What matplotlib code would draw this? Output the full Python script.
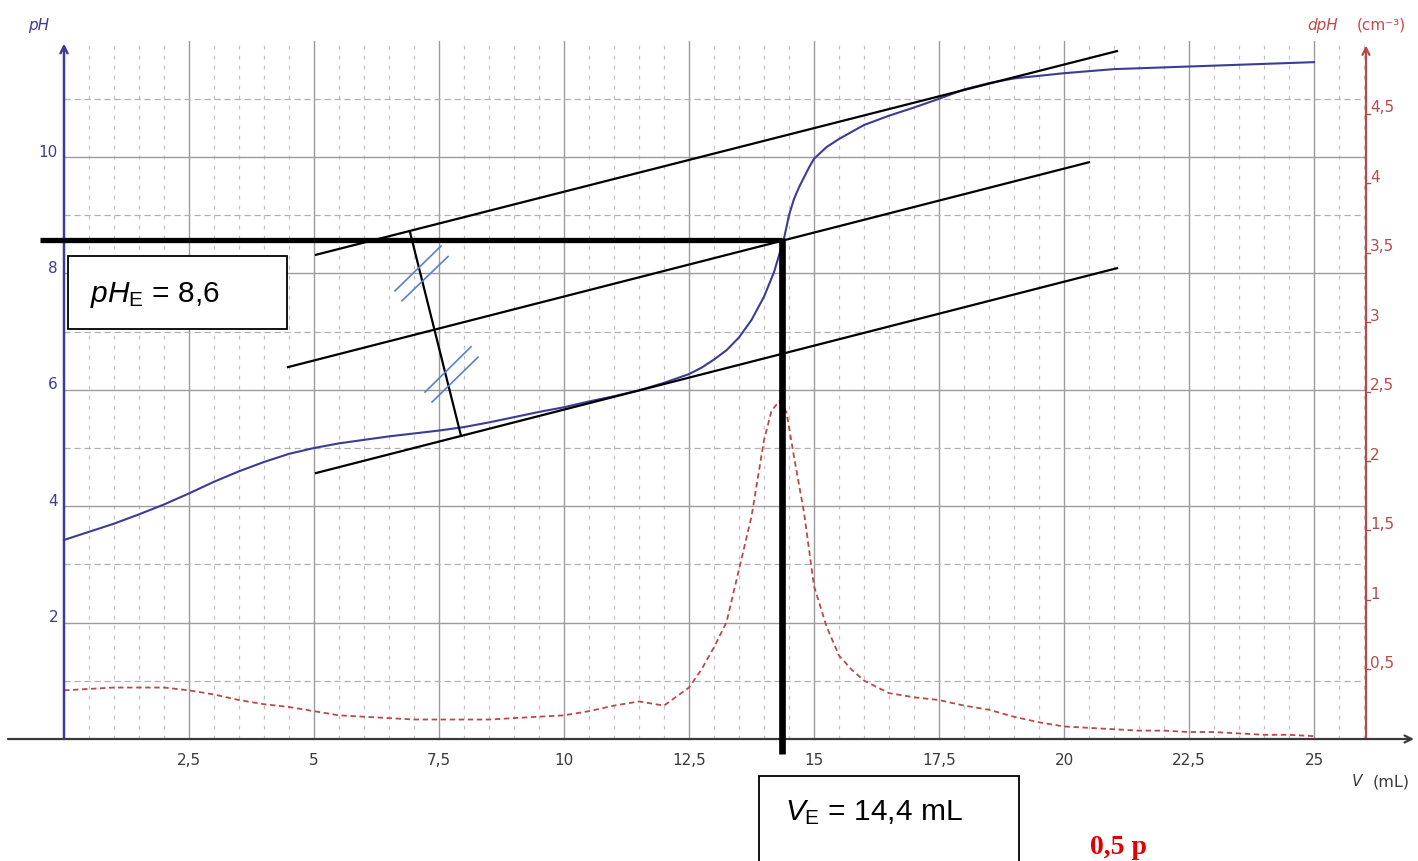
import matplotlib.pyplot as plt
import matplotlib.patches as patches

plt.rcParams['mathtext.fontset'] = 'custom'
plt.rcParams['mathtext.rm'] = 'Liberation Sans'
plt.rcParams['mathtext.it'] = 'Liberation Sans:italic'

# titration curve pH = f(V)
v_ph = [0, 0.5, 1, 1.5, 2, 2.5, 3, 3.5, 4, 4.5, 5, 5.5, 6, 6.5, 7, 7.5, 8, 8.5, 9, 9.5,
        10, 10.5, 11, 11.5, 12, 12.5, 12.75, 13, 13.25, 13.5, 13.75, 14, 14.2, 14.4, 14.5,
        14.6, 14.7, 14.8, 14.9, 15, 15.25, 15.5, 16, 16.5, 17, 17.5, 18, 18.5, 19, 20, 21,
        22, 23, 24, 25]
ph = [3.42, 3.56, 3.70, 3.86, 4.03, 4.22, 4.42, 4.60, 4.76, 4.90, 5.00, 5.08, 5.14, 5.20,
      5.25, 5.30, 5.36, 5.44, 5.53, 5.62, 5.70, 5.80, 5.89, 5.99, 6.12, 6.27, 6.38, 6.52,
      6.68, 6.90, 7.20, 7.60, 8.02, 8.60, 9.00, 9.28, 9.48, 9.65, 9.82, 9.97, 10.17, 10.31,
      10.55, 10.71, 10.85, 11.00, 11.16, 11.27, 11.35, 11.44, 11.51, 11.54, 11.57, 11.60,
      11.63]

# derivative dpH/dV
v_d = [0, 0.5, 1, 1.5, 2, 2.5, 3, 3.5, 4, 4.5, 5, 5.5, 6, 6.5, 7, 7.5, 8, 8.5, 9, 9.5,
       10, 10.5, 11, 11.5, 12, 12.5, 12.75, 13, 13.25, 13.5, 13.75, 14, 14.15, 14.3, 14.45,
       14.6, 14.8, 15, 15.25, 15.5, 15.75, 16, 16.5, 17, 17.5, 18, 18.5, 19, 19.5, 20,
       20.5, 21, 21.5, 22, 22.5, 23, 23.5, 24, 24.5, 25]
dph = [0.35, 0.36, 0.37, 0.37, 0.37, 0.35, 0.32, 0.28, 0.25, 0.23, 0.20, 0.17, 0.16, 0.15,
       0.14, 0.14, 0.14, 0.14, 0.15, 0.16, 0.17, 0.20, 0.24, 0.27, 0.24, 0.37, 0.50, 0.66,
       0.84, 1.22, 1.60, 2.15, 2.36, 2.43, 2.35, 2.03, 1.63, 1.10, 0.81, 0.60, 0.50, 0.42,
       0.33, 0.30, 0.28, 0.24, 0.21, 0.16, 0.12, 0.09, 0.08, 0.07, 0.06, 0.06, 0.05, 0.05,
       0.04, 0.03, 0.03, 0.02]

# parallel tangents and their perpendicular
tan_v = [[5.04, 21.06], [4.48, 20.5], [5.04, 21.06]]
tan_ph = [[8.32, 11.82], [6.39, 9.91], [4.57, 8.09]]
perp_v = [6.92, 7.94]
perp_ph = [8.71, 5.21]
# equal-length marks
mark_v = [[6.62, 7.54], [6.76, 7.68], [7.22, 8.14], [7.36, 8.28]]
mark_ph = [[7.70, 8.47], [7.53, 8.29], [5.96, 6.74], [5.79, 6.56]]

ve = 14.35
phe = 8.58

x_ticks = [2.5, 5, 7.5, 10, 12.5, 15, 17.5, 20, 22.5, 25]
x_labels = ['2,5', '5', '7,5', '10', '12,5', '15', '17,5', '20', '22,5', '25']
ph_ticks = [2, 4, 6, 8, 10]
d_ticks = [0.5, 1, 1.5, 2, 2.5, 3, 3.5, 4, 4.5]
d_labels = ['0,5', '1', '1,5', '2', '2,5', '3', '3,5', '4', '4,5']

blue = '#3c3c96'
red = '#b84a4a'

fig = plt.figure(figsize=(14.18, 8.62), dpi=100)
ax = fig.add_axes([0, 0, 1, 1])
ax.set_xlim(-1.28, 27.08)
ax.set_ylim(-2.096, 12.715)
ax.axis('off')
ax2 = ax.twinx()
ax2.set_ylim(-0.878, 5.324)
ax2.axis('off')
ax2.set_zorder(0)
ax.set_zorder(1)
ax.patch.set_visible(False)

# grid (drawn in the lower axes so the red curve sits on top)
gt = ax.transData
for i in range(1, 53):
    x = i * 0.5
    if i % 5 == 0:
        ax2.plot([x, x], [0, 12], color='#9c9c9c', lw=1.0, transform=gt, zorder=1)
    else:
        ax2.plot([x, x], [0, 12], color='#c2c2c2', lw=0.9, ls=(0, (3, 5)), transform=gt, zorder=1)
for y in range(1, 12):
    if y % 2 == 0:
        ax2.plot([0, 26], [y, y], color='#9c9c9c', lw=1.0, transform=gt, zorder=1)
    else:
        ax2.plot([0, 26], [y, y], color='#b0b0b0', lw=0.9, ls=(0, (5, 3)), transform=gt, zorder=1)

# dpH curve
ax2.plot(v_d, dph, color=red, lw=1.3, ls=(0, (3, 2)), zorder=3)

# axes lines
ax.annotate('', xy=(27.0, 0), xytext=(-1.12, 0),
            arrowprops=dict(arrowstyle='->,head_length=0.5,head_width=0.25', color='#3a3a3a',
                            lw=1.6, shrinkA=0, shrinkB=0))
ax.annotate('', xy=(0, 11.95), xytext=(0, 0),
            arrowprops=dict(arrowstyle='->,head_length=0.5,head_width=0.25', color=blue,
                            lw=1.8, shrinkA=0, shrinkB=0))
ax2.annotate('', xy=(26.04, 4.99), xytext=(26.04, 0),
             arrowprops=dict(arrowstyle='->,head_length=0.5,head_width=0.25', color=red,
                             lw=1.6, shrinkA=0, shrinkB=0))

# pH curve
ax.plot(v_ph, ph, color=blue, lw=1.5, zorder=3)

# construction lines
for xs, ys in zip(tan_v, tan_ph):
    ax.plot(xs, ys, color='black', lw=1.6, zorder=4)
ax.plot(perp_v, perp_ph, color='black', lw=1.6, zorder=4)
for xs, ys in zip(mark_v, mark_ph):
    ax.plot(xs, ys, color='#5a7fd0', lw=1.2, zorder=4)
ax.plot([-0.48, ve], [phe, phe], color='black', lw=3.8, zorder=5, solid_capstyle='butt')
ax.plot([ve, ve], [phe + 0.03, -0.26], color='black', lw=4.8, zorder=5, solid_capstyle='butt')

# tick labels
for x, lab in zip(x_ticks, x_labels):
    ax.text(x, -0.36, lab, ha='center', va='center', fontsize=11, color='#3a3a3a')
for y in ph_ticks:
    ax.text(-0.12, y + 0.1, str(y), ha='right', va='center', fontsize=11, color=blue)
for y, lab in zip(d_ticks, d_labels):
    ax2.plot([26.04, 26.12], [y, y], color=red, lw=1.0)
    ax2.text(26.12, y + 0.05, lab, ha='left', va='center', fontsize=11, color=red)

ax.text(-0.5, 12.27, 'pH', ha='center', va='center', fontsize=11, color=blue, style='italic')
ax.text(24.86, 12.28, 'dpH', ha='left', va='center', fontsize=11, color='#c44848', style='italic')
ax.text(25.86, 12.28, '(cm⁻³)', ha='left', va='center', fontsize=11, color='#c44848')
ax.text(25.76, -0.72, 'V', ha='left', va='center', fontsize=11, color='#3a3a3a', style='italic')
ax.text(26.18, -0.72, '(mL)', ha='left', va='center', fontsize=11.5, color='#3a3a3a')

# result boxes
ax.add_patch(patches.Rectangle((0.08, 7.04), 4.38, 1.26, facecolor='white', edgecolor='black',
                               lw=1.3, zorder=6))
ax.text(0.52, 7.53, r'$pH_{\mathrm{E}}$ = 8,6', family='Liberation Sans', fontsize=21.5,
        va='baseline', ha='left', zorder=7)
ax.add_patch(patches.Rectangle((13.9, -2.3), 5.2, 1.664, facecolor='white', edgecolor='black',
                               lw=1.3, zorder=6, clip_on=False))
ax.text(14.42, -1.375, r'$V_{\mathrm{E}}$ = 14,4 mL', family='Liberation Sans', fontsize=21.5,
        va='baseline', ha='left', zorder=7)
ax.text(20.52, -1.96, '0,5 p', family='Liberation Serif', fontweight='bold', fontsize=20,
        color='#e00000', va='baseline', ha='left', zorder=7)

fig.savefig('out.png', dpi=100, facecolor='white')
